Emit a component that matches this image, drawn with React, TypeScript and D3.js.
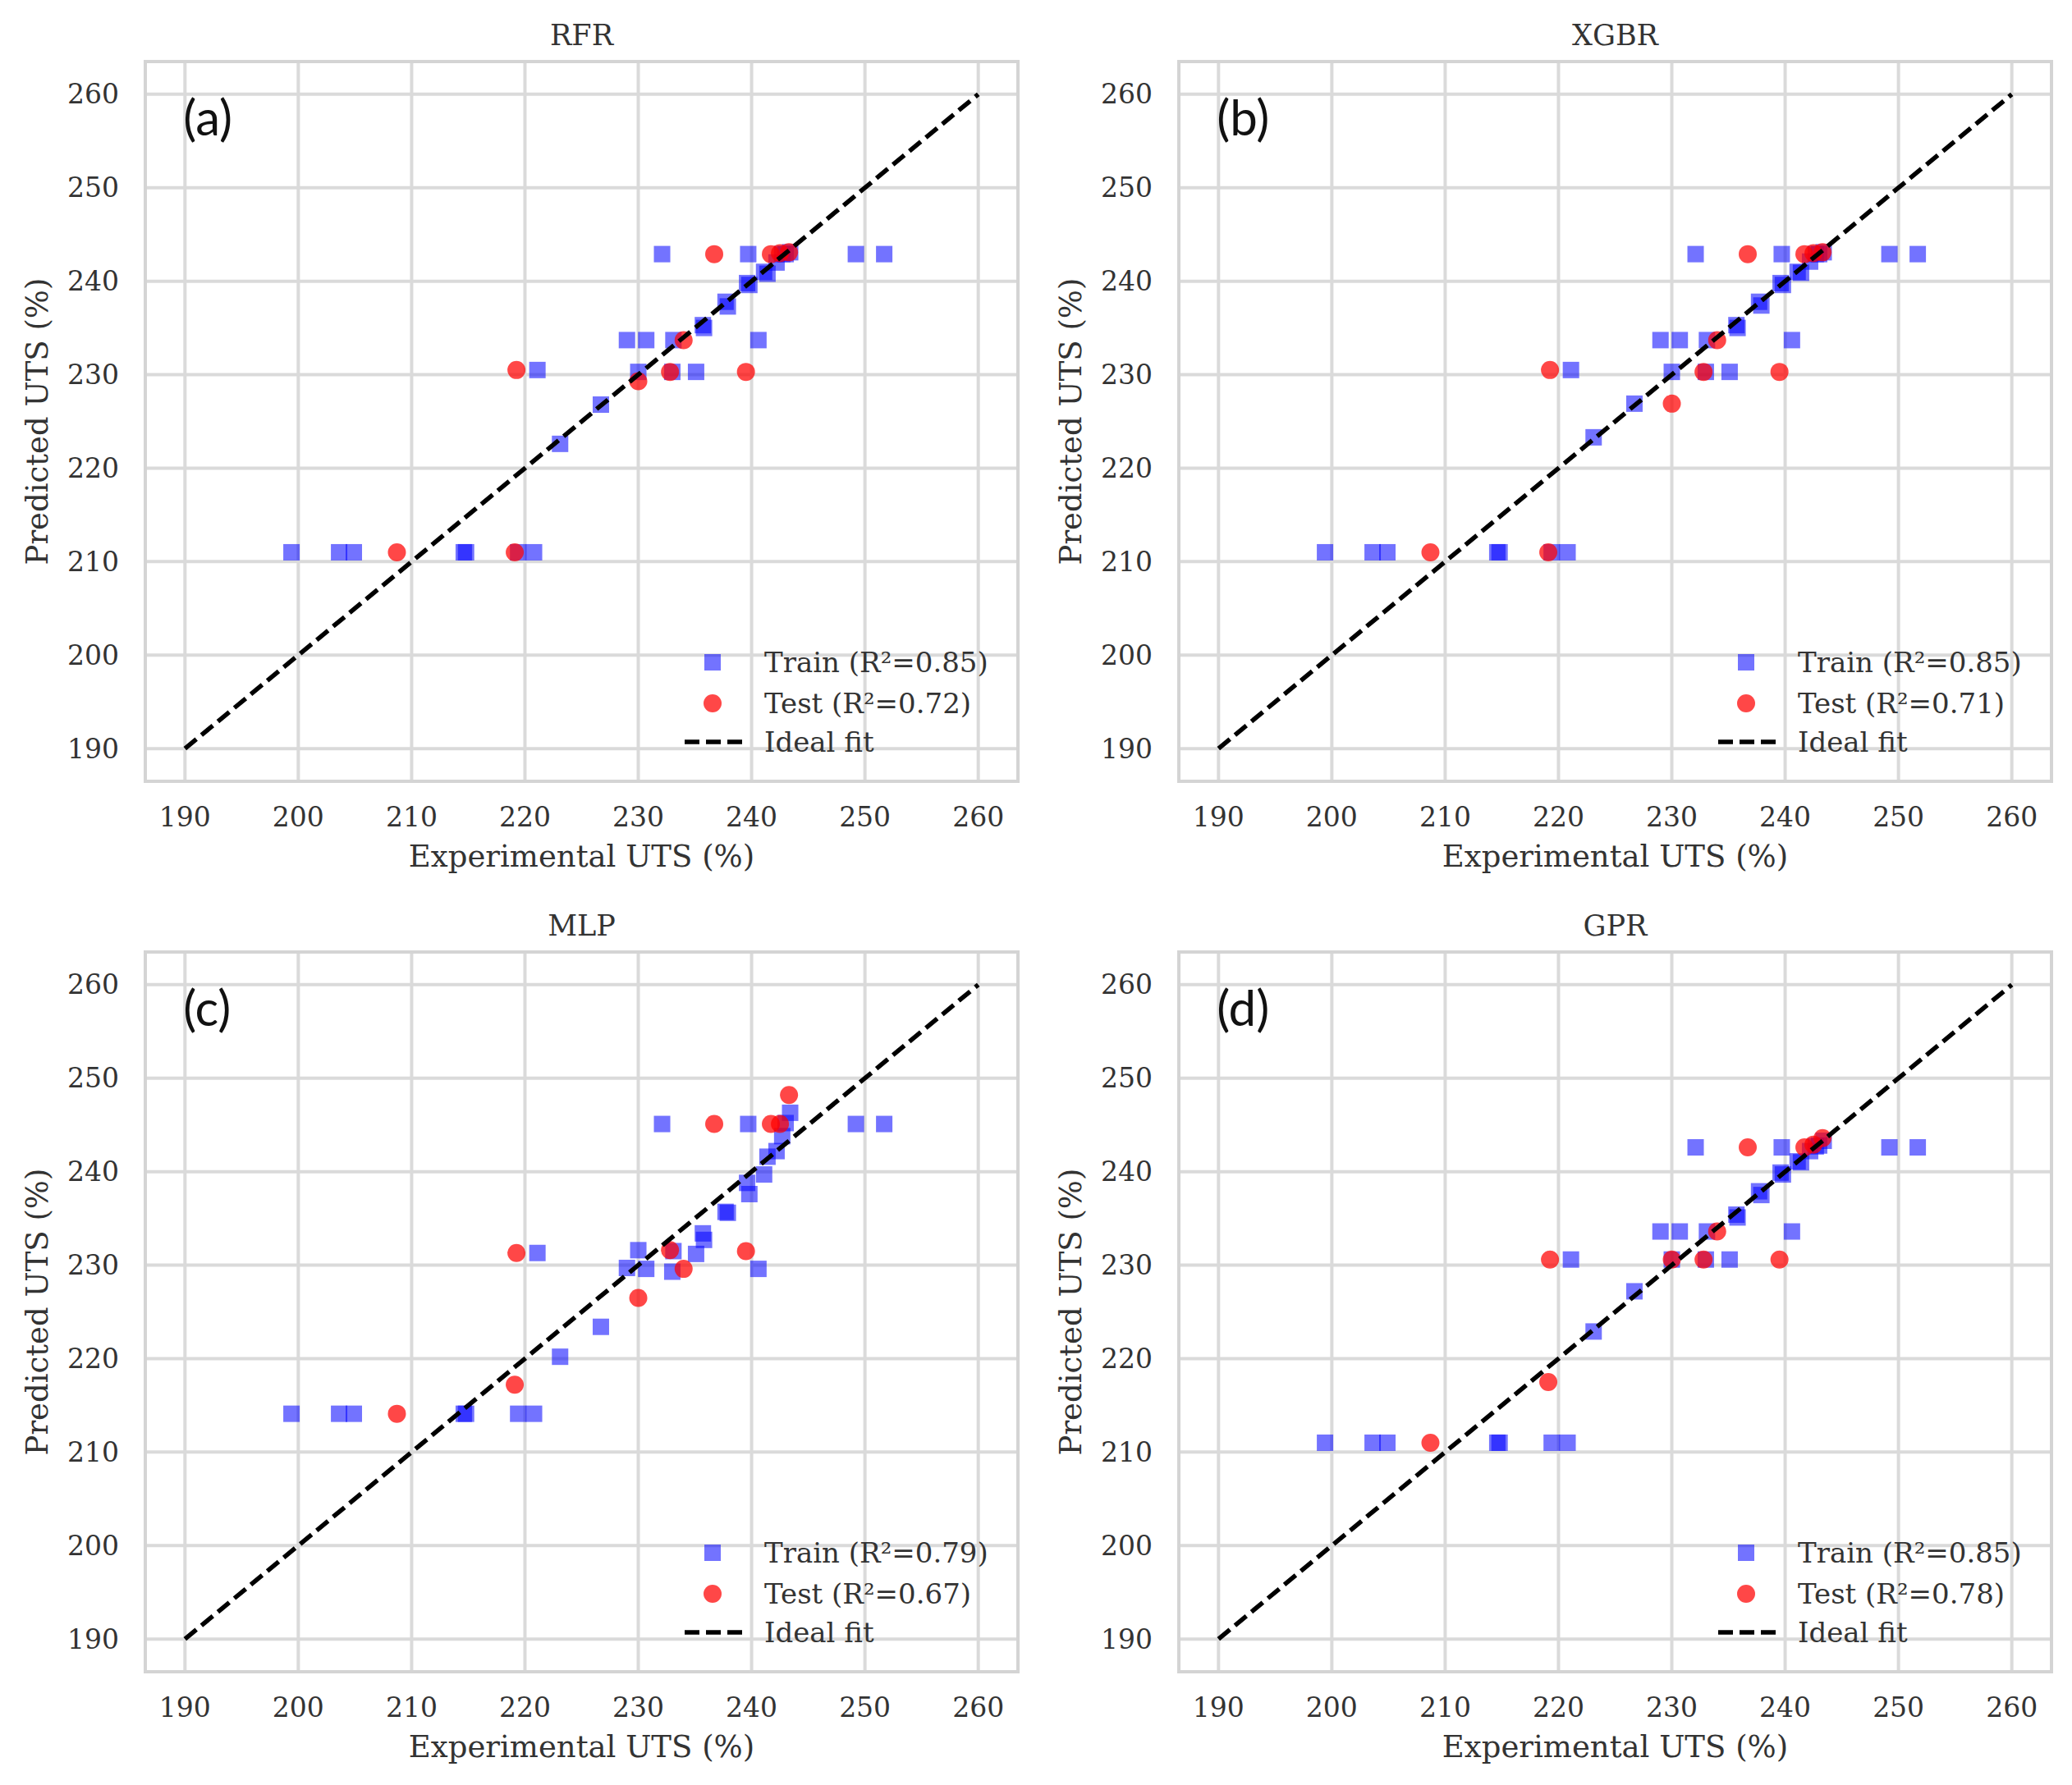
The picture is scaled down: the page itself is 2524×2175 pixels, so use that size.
import React from 'react';
import * as d3 from 'd3';

// experimental values (shared by the four models)
const trainExp = [
  199.4, 203.6, 204.9, 214.6, 214.8, 219.4, 220.8, 221.1, 223.1, 226.7, 229.0,
  230.0, 230.7, 233.1, 233.0, 235.1, 235.7, 235.8, 237.7, 237.9, 239.6, 239.8,
  240.6, 241.1, 241.4, 242.2, 232.1, 239.7, 242.7, 243.4, 243.0, 249.2, 251.7,
];
const testExp = [208.7, 219.1, 219.25, 230.0, 232.8, 234.0, 236.7, 239.5, 241.7, 242.5, 243.3];

// predictions per model
const rfrTrain = [
  211.0, 211.0, 211.0, 211.0, 211.0, 211.0, 211.0, 230.5, 222.6, 226.8, 233.7,
  230.3, 233.7, 233.7, 230.3, 230.3, 235.3, 235.0, 237.8, 237.3, 239.8, 239.6,
  233.7, 241.0, 240.8, 242.0, 242.9, 242.9, 242.9, 243.1, 242.9, 242.9, 242.9,
];
const rfrTest = [211.0, 211.0, 230.5, 229.3, 230.3, 233.7, 242.9, 230.3, 242.9, 243.0, 243.1];

const xgbrTrain = [
  211.0, 211.0, 211.0, 211.0, 211.0, 211.0, 211.0, 230.5, 223.3, 226.9, 233.7,
  230.3, 233.7, 233.7, 230.3, 230.3, 235.3, 235.0, 237.8, 237.4, 239.8, 239.6,
  233.7, 241.0, 240.9, 242.1, 242.9, 242.9, 242.9, 243.1, 242.9, 242.9, 242.9,
];
const xgbrTest = [211.0, 211.0, 230.5, 226.9, 230.3, 233.7, 242.9, 230.3, 242.9, 243.0, 243.1];

const mlpTrain = [
  214.1, 214.1, 214.1, 214.1, 214.1, 214.1, 214.1, 231.3, 220.2, 223.4, 229.7,
  231.6, 229.6, 231.5, 229.3, 231.2, 233.4, 232.7, 235.7, 235.6, 238.8, 237.6,
  229.6, 239.7, 241.6, 242.2, 245.1, 245.1, 243.8, 246.3, 245.2, 245.1, 245.1,
];
const mlpTest = [214.1, 217.2, 231.3, 226.5, 231.6, 229.6, 245.1, 231.5, 245.1, 245.1, 248.2];

const gprTrain = [
  211.0, 211.0, 211.0, 211.0, 211.0, 211.0, 211.0, 230.6, 222.9, 227.2, 233.6,
  230.6, 233.6, 233.6, 230.6, 230.6, 235.4, 235.1, 237.9, 237.5, 239.9, 239.7,
  233.6, 241.1, 241.0, 242.2, 242.6, 242.6, 242.7, 243.3, 242.8, 242.6, 242.6,
];
const gprTest = [211.0, 217.5, 230.6, 230.6, 230.6, 233.6, 242.6, 230.6, 242.6, 242.9, 243.6];

const tickValues = [190, 200, 210, 220, 230, 240, 250, 260];
const domain: [number, number] = [186.5, 263.5];
const idealFit = [190, 260];

interface PanelSpec {
  title: string;
  tag: string;
  train: number[];
  test: number[];
  r2Train: string;
  r2Test: string;
  left: number;
  top: number;
}

const panels: PanelSpec[] = [
  { title: 'RFR', tag: '(a)', train: rfrTrain, test: rfrTest, r2Train: '0.85', r2Test: '0.72', left: 177, top: 75 },
  { title: 'XGBR', tag: '(b)', train: xgbrTrain, test: xgbrTest, r2Train: '0.85', r2Test: '0.71', left: 1436, top: 75 },
  { title: 'MLP', tag: '(c)', train: mlpTrain, test: mlpTest, r2Train: '0.79', r2Test: '0.67', left: 177, top: 1160 },
  { title: 'GPR', tag: '(d)', train: gprTrain, test: gprTest, r2Train: '0.85', r2Test: '0.78', left: 1436, top: 1160 },
];

const pw = 1063;
const ph = 877;
const serif = '"DejaVu Serif", serif';
const textColor = '#333';
const gridColor = '#dadada';
const sq = 20;
const dotR = 11;

const Panel: React.FC<{ p: PanelSpec }> = ({ p }) => {
  const x = d3.scaleLinear().domain(domain).range([p.left, p.left + pw]);
  const y = d3.scaleLinear().domain(domain).range([p.top + ph, p.top]);
  const right = p.left + pw;
  const bottom = p.top + ph;
  const line = d3.line<number>().x((d) => x(d)).y((d) => y(d));

  // legend anchor
  const lgX = right - 372;
  const lgT = right - 309;
  const rows = [bottom - 145, bottom - 95, bottom - 48];

  return (
    <g>
      {/* grid */}
      {tickValues.map((t) => (
        <g key={'g' + t}>
          <line x1={x(t)} x2={x(t)} y1={p.top} y2={bottom} stroke={gridColor} strokeWidth={4} />
          <line x1={p.left} x2={right} y1={y(t)} y2={y(t)} stroke={gridColor} strokeWidth={4} />
        </g>
      ))}
      <rect x={p.left} y={p.top} width={pw} height={ph} fill="none" stroke="#d4d4d4" strokeWidth={4} />

      {/* tick labels */}
      {tickValues.map((t) => (
        <g key={'t' + t} fill={textColor} fontFamily={serif} fontSize={33}>
          <text x={x(t)} y={bottom + 43} dy="0.35em" textAnchor="middle">{t}</text>
          <text x={p.left - 32} y={y(t)} dy="0.35em" textAnchor="end">{t}</text>
        </g>
      ))}

      {/* labels */}
      <text x={(p.left + right) / 2} y={p.top - 32} dy="0.35em" textAnchor="middle"
        fontFamily={serif} fontSize={35} fill={textColor}>{p.title}</text>
      <text x={(p.left + right) / 2} y={bottom + 91} dy="0.35em" textAnchor="middle"
        fontFamily={serif} fontSize={37} fill={textColor}>Experimental UTS (%)</text>
      <text transform={`translate(${p.left - 132},${(p.top + bottom) / 2}) rotate(-90)`} dy="0.35em"
        textAnchor="middle" fontFamily={serif} fontSize={37} fill={textColor}>Predicted UTS (%)</text>
      <text x={x(190) - 2} y={p.top + 90} fontFamily="Lato, 'Open Sans', sans-serif" fontSize={60}
        fill="#111">{p.tag}</text>

      {/* train points */}
      {trainExp.map((e, i) => (
        <rect key={'tr' + i} x={x(e) - sq / 2} y={y(p.train[i]) - sq / 2} width={sq} height={sq}
          fill="blue" fillOpacity={0.55} />
      ))}
      {/* test points */}
      {testExp.map((e, i) => (
        <circle key={'te' + i} cx={x(e)} cy={y(p.test[i])} r={dotR} fill="red" fillOpacity={0.72} />
      ))}
      {/* ideal fit */}
      <path d={line(idealFit) ?? ''} fill="none" stroke="#000" strokeWidth={5.5} strokeDasharray="18 8" />

      {/* legend */}
      <rect x={lgX - sq / 2} y={rows[0] - sq / 2} width={sq} height={sq} fill="blue" fillOpacity={0.55} />
      <circle cx={lgX} cy={rows[1]} r={dotR} fill="red" fillOpacity={0.72} />
      <line x1={lgX - 34} x2={lgX + 39} y1={rows[2]} y2={rows[2]} stroke="#000" strokeWidth={5.5} strokeDasharray="18 8" />
      <g fontFamily={serif} fontSize={34} fill={textColor}>
        <text x={lgT} y={rows[0]} dy="0.35em">Train (R²=<tspan>{p.r2Train}</tspan>)</text>
        <text x={lgT} y={rows[1]} dy="0.35em">Test (R²=<tspan>{p.r2Test}</tspan>)</text>
        <text x={lgT} y={rows[2]} dy="0.35em">Ideal fit</text>
      </g>
    </g>
  );
};

const App: React.FC = () => {
  return (
    <svg width={2524} height={2175} style={{ position: 'absolute', left: 0, top: 0, background: '#fff' }}>
      <rect width={2524} height={2175} fill="#fff" />
      {panels.map((p) => (
        <Panel key={p.title} p={p} />
      ))}
    </svg>
  );
};

export default App;
